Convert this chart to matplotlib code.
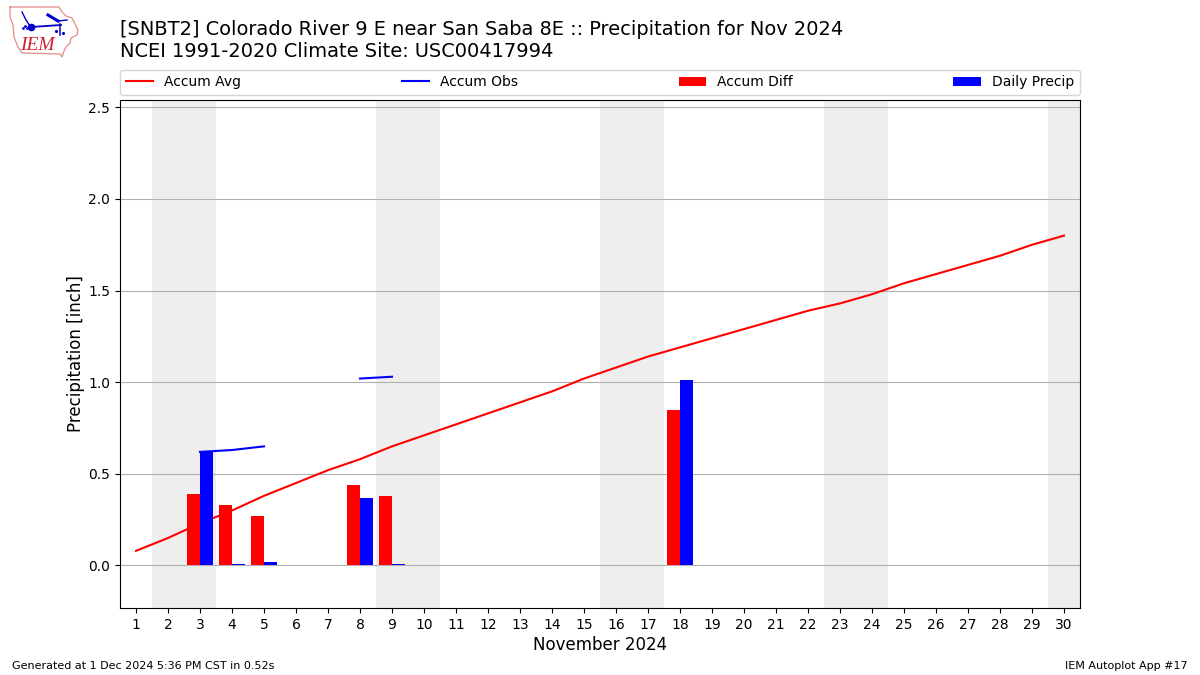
import numpy as np
import matplotlib
matplotlib.use("Agg")
import matplotlib.pyplot as plt

days = np.arange(1, 31)
accum_avg = [0.08, 0.15, 0.23, 0.30, 0.38, 0.45, 0.52, 0.58, 0.65, 0.71,
             0.77, 0.83, 0.89, 0.95, 1.02, 1.08, 1.14, 1.19, 1.24, 1.29,
             1.34, 1.39, 1.43, 1.48, 1.54, 1.59, 1.64, 1.69, 1.75, 1.80]
nan = float("nan")
# obs is missing outside of these days, so the line breaks up
accum_obs = [nan, nan, 0.62, 0.63, 0.65, nan, nan, 1.02, 1.03, nan,
             nan, nan, nan, nan, nan, nan, nan, nan, nan, nan,
             nan, nan, nan, nan, nan, nan, nan, nan, nan, nan]
bar_days = [3, 4, 5, 8, 9, 18]
accum_diff = [0.39, 0.33, 0.27, 0.44, 0.38, 0.85]
daily_precip = [0.62, 0.01, 0.02, 0.37, 0.01, 1.01]
weekends = [2, 3, 9, 10, 16, 17, 23, 24, 30]

fig = plt.figure(figsize=(12, 6.75), dpi=100)
ax = fig.add_axes([120 / 1200, 1 - 608 / 675, 960 / 1200, 508 / 675])

for d in weekends:
    ax.axvspan(d - 0.5, d + 0.5, color="#eeeeee", lw=0, zorder=0)

ax.plot(days, accum_avg, color="r", label="Accum Avg", zorder=1.5)
ax.plot(days, accum_obs, color="b", label="Accum Obs", zorder=3)
ax.bar(np.array(bar_days) - 0.2, accum_diff, width=0.4, color="r", label="Accum Diff", zorder=2)
ax.bar(np.array(bar_days) + 0.2, daily_precip, width=0.4, color="b", label="Daily Precip", zorder=2)

ax.set_xlim(0.5, 30.5)
ax.set_ylim(-0.232, 2.54)
ax.set_xticks(days)
ax.set_yticks([0, 0.5, 1, 1.5, 2, 2.5])
ax.tick_params(labelsize=10)
ax.yaxis.grid(True, color="#b0b0b0", lw=0.8, zorder=1)
ax.set_axisbelow(True)
ax.set_xlabel("November 2024", fontsize=12, labelpad=3)
ax.set_ylabel("Precipitation [inch]", fontsize=12, labelpad=2.4)

ax.legend(ncol=4, mode="expand", loc="lower left", fontsize=10, borderaxespad=0,
          bbox_to_anchor=(0, 1.0102, 1, 0.05))

fig.text(120 / 1200, 1 - 29.5 / 675, "[SNBT2] Colorado River 9 E near San Saba 8E :: Precipitation for Nov 2024",
         fontsize=13.99, va="center")
fig.text(120 / 1200, 1 - 51.5 / 675, "NCEI 1991-2020 Climate Site: USC00417994", fontsize=13.99, va="center")
fig.text(12 / 1200, 1 - 666 / 675, "Generated at 1 Dec 2024 5:36 PM CST in 0.52s", fontsize=8, va="center")
fig.text(1188 / 1200, 1 - 666 / 675, "IEM Autoplot App #17", fontsize=8, va="center", ha="right")

# logo, drawn in pixel coords of the crop
logo = fig.add_axes([0, 1 - 60 / 675, 84 / 1200, 60 / 675])
logo.set_xlim(0, 84)
logo.set_ylim(60, 0)
logo.axis("off")
state_x = [10, 59, 62, 66, 72, 75, 78, 77, 71, 70, 66, 64, 62, 60, 22, 18, 14, 13, 10, 10]
state_y = [7, 7, 12, 16, 18, 24, 30, 35, 38, 43, 47, 51, 57, 54, 53, 47, 37, 25, 17, 7]
logo.plot(state_x, state_y, color="#e58a8a", lw=0.9)
logo.plot([31, 61], [27, 25], color="#0000cc", lw=1.3)
logo.plot([60, 60], [24, 35], color="#0000cc", lw=1.1)
logo.plot([48, 53, 58], [15, 18, 21], color="#0000cc", lw=2.2)
logo.plot([58, 67], [21, 20], color="#0000cc", lw=1)
logo.plot([22, 26, 30], [12, 20, 26], color="#0000cc", lw=1)
logo.plot([31], [27], "o", color="#0000cc", ms=4.5)
logo.plot([23, 25, 27], [28, 26, 28], ".", color="#0000cc", ms=2)
logo.plot([56, 63], [31, 33], ".", color="#0000cc", ms=2.5)
logo.text(20, 46, "IEM", color="#cc2030", family="Liberation Serif", style="italic", fontsize=14, va="center")

fig.savefig("out.png", dpi=100)
